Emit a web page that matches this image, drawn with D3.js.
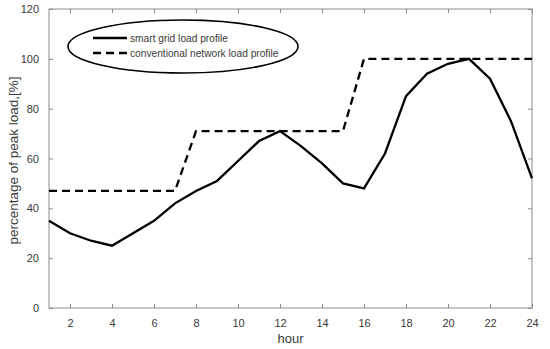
<!DOCTYPE html>
<html>
<head>
<meta charset="utf-8">
<script src="https://cdn.jsdelivr.net/npm/d3@7"></script>
<style>
  body { margin: 0; background: #fff; }
  svg { font-family: "Liberation Sans", Arial, sans-serif; }
</style>
</head>
<body>
<svg id="chart"></svg>
<script>
// Load profiles over 24 hours
const width = 550;
const height = 349;

const hours = d3.range(1, 25);
const smartGrid = [35, 30, 27, 25, 30, 35, 42, 47, 51, 59, 67, 71,
                   65, 58, 50, 48, 62, 85, 94, 98, 100, 92, 75, 52];
// conventional profile: step changes
const convHours = [1, 7, 8, 15, 16, 24];
const convValues = [47, 47, 71, 71, 100, 100];

const xTicks = [2, 4, 6, 8, 10, 12, 14, 16, 18, 20, 22, 24];
const yTicks = [0, 20, 40, 60, 80, 100, 120];

const legendLabels = ["smart grid load profile", "conventional network load profile"];

const margin = {top: 9, right: 18, bottom: 41, left: 49};

const svg = d3.select("#chart")
    .attr("width", width)
    .attr("height", height);

const x = d3.scaleLinear().domain([1, 24]).range([margin.left, width - margin.right]);
const y = d3.scaleLinear().domain([0, 120]).range([height - margin.bottom, margin.top]);

const axisColor = "#8c8c8c";
const textColor = "#3a3a3a";

// box
svg.append("rect")
    .attr("x", x(1)).attr("y", y(120))
    .attr("width", x(24) - x(1)).attr("height", y(0) - y(120))
    .attr("fill", "none").attr("stroke", axisColor).attr("stroke-width", 1);

function styleAxis(g) {
    g.select(".domain").remove();
    g.selectAll(".tick line").attr("stroke", axisColor);
    g.selectAll(".tick text").attr("fill", textColor).style("font-size", "11px");
}

// bottom axis, ticks inward
svg.append("g")
    .attr("transform", `translate(0,${y(0)})`)
    .call(d3.axisBottom(x).tickValues(xTicks).tickSizeInner(-4).tickSizeOuter(0).tickPadding(11))
    .call(styleAxis);

// top axis ticks
svg.append("g")
    .attr("transform", `translate(0,${y(120)})`)
    .call(d3.axisTop(x).tickValues(xTicks).tickSizeInner(-4).tickSizeOuter(0).tickFormat(""))
    .call(styleAxis);

// left axis
svg.append("g")
    .attr("transform", `translate(${x(1)},0)`)
    .call(d3.axisLeft(y).tickValues(yTicks).tickSizeInner(-4).tickSizeOuter(0).tickPadding(10))
    .call(styleAxis);

// right axis ticks
svg.append("g")
    .attr("transform", `translate(${x(24)},0)`)
    .call(d3.axisRight(y).tickValues(yTicks).tickSizeInner(-4).tickSizeOuter(0).tickFormat(""))
    .call(styleAxis);

const line = d3.line()
    .x(d => x(d[0]))
    .y(d => y(d[1]));

svg.append("path")
    .datum(convHours.map((h, i) => [h, convValues[i]]))
    .attr("d", line)
    .attr("fill", "none")
    .attr("stroke", "#000")
    .attr("stroke-width", 2.3)
    .attr("stroke-dasharray", "8,5");

svg.append("path")
    .datum(hours.map((h, i) => [h, smartGrid[i]]))
    .attr("d", line)
    .attr("fill", "none")
    .attr("stroke", "#000")
    .attr("stroke-width", 2.3);

// axis labels
svg.append("text")
    .attr("x", (x(1) + x(24)) / 2)
    .attr("y", 343)
    .attr("text-anchor", "middle")
    .attr("fill", textColor)
    .style("font-size", "13px")
    .text("hour");

svg.append("text")
    .attr("transform", `translate(18,${(y(0) + y(120)) / 2 + 2}) rotate(-90)`)
    .attr("text-anchor", "middle")
    .attr("fill", textColor)
    .style("font-size", "13.5px")
    .text("percentage of peak load,[%]");

// legend inside an ellipse
const legend = svg.append("g");
legend.append("ellipse")
    .attr("cx", 183).attr("cy", 46.5)
    .attr("rx", 115).attr("ry", 26.5)
    .attr("fill", "#fff").attr("stroke", "#000").attr("stroke-width", 1.6);

legendLabels.forEach((lab, i) => {
    const ly = 38 + i * 15;
    legend.append("line")
        .attr("x1", 93).attr("x2", 127)
        .attr("y1", ly).attr("y2", ly)
        .attr("stroke", "#000").attr("stroke-width", 2.3)
        .attr("stroke-dasharray", i === 1 ? "8,5" : null);
    legend.append("text")
        .attr("x", 130).attr("y", ly + 3.5)
        .attr("fill", textColor)
        .style("font-size", "10.2px")
        .text(lab);
});
</script>
</body>
</html>
